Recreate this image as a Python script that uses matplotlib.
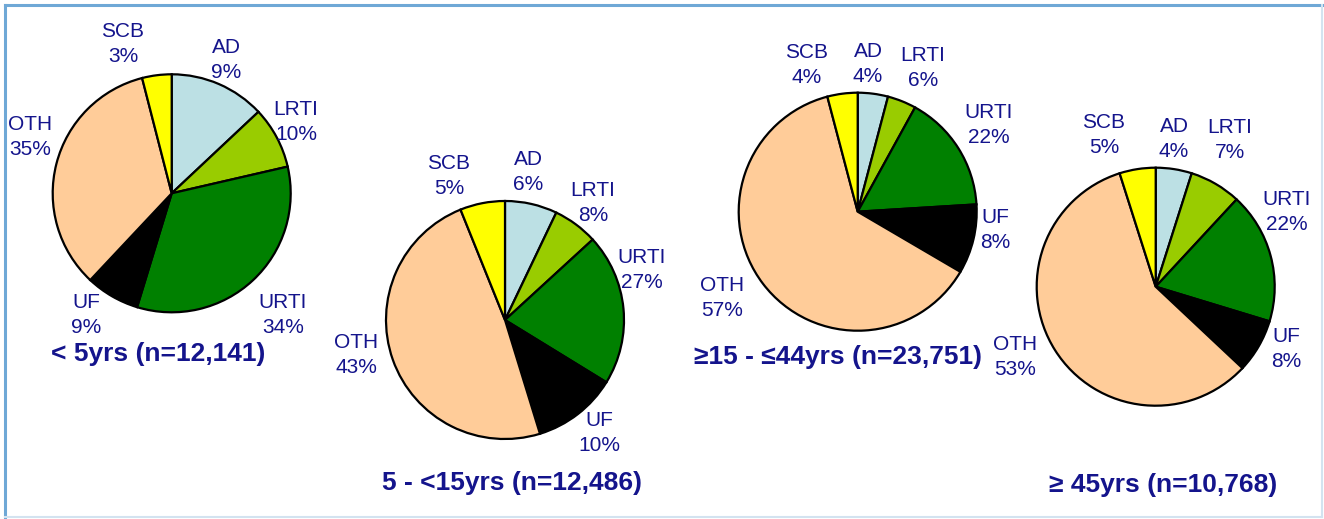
import matplotlib.pyplot as plt
from matplotlib.lines import Line2D

# categories in clockwise order starting at 12 o'clock
categories = ['AD', 'LRTI', 'URTI', 'UF', 'OTH', 'SCB']
colors = ['#BCE0E4', '#99CC00', '#008000', '#000000', '#FFCC99', '#FFFF00']

# slice shares as drawn
share_u5 = [13.0, 8.4, 33.3, 7.3, 34.0, 4.0]
share_5_15 = [7.1, 6.1, 20.6, 11.5, 48.7, 6.1]
share_15_44 = [4.1, 3.9, 16.0, 9.4, 62.4, 4.1]
share_45 = [4.9, 7.0, 17.8, 7.3, 58.1, 4.9]

# percentages printed on the labels
label_u5 = [9, 10, 34, 9, 35, 3]
label_5_15 = [6, 8, 27, 10, 43, 5]
label_15_44 = [4, 6, 22, 8, 57, 4]
label_45 = [4, 7, 22, 8, 53, 5]

titles = ['< 5yrs (n=12,141)', '5 - <15yrs (n=12,486)',
          '≥15 - ≤44yrs (n=23,751)', '≥ 45yrs (n=10,768)']

W, H = 1324, 519
NAVY = '#14148C'

# layout in pixel coordinates (y from top)
pies = [
    dict(share=share_u5, labels=label_u5, center=(171.7, 193.3),
         title_xy=(158, 354),
         label_xy=[(226, 60), (296, 122), (283, 315), (86, 315), (30, 137), (123, 44)]),
    dict(share=share_5_15, labels=label_5_15, center=(505, 320),
         title_xy=(512, 483),
         label_xy=[(528, 172), (593, 203), (642, 270), (599, 433), (356, 355), (449, 176)]),
    dict(share=share_15_44, labels=label_15_44, center=(857.7, 211.7),
         title_xy=(838, 357),
         label_xy=[(868, 64), (923, 68), (989, 125), (995, 230), (722, 298), (807, 65)]),
    dict(share=share_45, labels=label_45, center=(1155.7, 286.7),
         title_xy=(1163, 485),
         label_xy=[(1174, 139), (1230, 140), (1287, 212), (1286, 349), (1015, 357), (1104, 135)]),
]

plt.rcParams['font.family'] = ['Liberation Sans', 'DejaVu Sans']

fig = plt.figure(figsize=(W / 100, H / 100), dpi=100)
ax = fig.add_axes([0, 0, 1, 1])
ax.axis('off')


def fy(y):
    return H - y


for i, p in enumerate(pies):
    cx, cy = p['center']
    ax.pie(p['share'], colors=colors, startangle=90, counterclock=False,
           center=(cx, fy(cy)), radius=119,
           wedgeprops=dict(edgecolor='black', linewidth=1.6))
    for cat, pct, (lx, ly) in zip(categories, p['labels'], p['label_xy']):
        ax.text(lx, fy(ly), f'{cat}\n{pct}%', ha='center', va='center',
                fontsize=15, color=NAVY, linespacing=1.35)
    tx, ty = p['title_xy']
    ax.text(tx, fy(ty), titles[i], ha='center', va='center',
            fontsize=19, fontweight='bold', color=NAVY)

ax.set_xlim(0, W)
ax.set_ylim(0, H)
ax.set_aspect('equal')

# frame around the slide area
fig.add_artist(Line2D([5, W - 2], [H - 5, H - 5], transform=None,
                      color='#6FA8D6', linewidth=2.2))
fig.add_artist(Line2D([5, 5], [H - 5, 0], transform=None,
                      color='#6FA8D6', linewidth=2.2))
fig.add_artist(Line2D([5, W - 2], [2, 2], transform=None,
                      color='#D3E3F0', linewidth=1.5))
fig.add_artist(Line2D([W - 2, W - 2], [2, H - 5], transform=None,
                      color='#D3E3F0', linewidth=1.5))

fig.savefig('out.png', dpi=100)
